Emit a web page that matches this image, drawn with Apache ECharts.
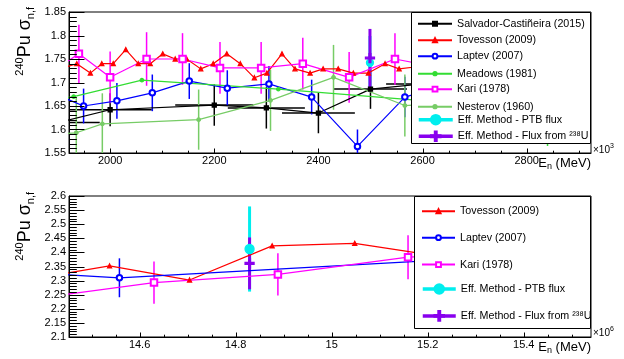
<!DOCTYPE html>
<html><head><meta charset="utf-8">
<script src="https://cdn.jsdelivr.net/npm/echarts@6/dist/echarts.min.js"></script>
<style>html,body{margin:0;padding:0;background:#fff}#c{width:624px;height:359px}</style>
</head><body><div id="c"></div>
<script>
// ================= TOP PANEL DATA =================
const salvX    = [1900, 2000, 2200, 2300, 2400, 2500, 2600];
const salvY    = [1.615, 1.642, 1.652, 1.646, 1.635, 1.686, 1.697];
const salvYErr = [0.035, 0.035, 0.044, 0.044, 0.043, 0.042, 0.040];
const salvXErr = [80, 80, 75, 74, 70, 70, 70];

const tovTopX = [1910, 1936, 1962, 1984, 2006, 2030, 2054, 2077, 2101, 2125, 2147, 2174, 2198, 2224, 2250, 2277, 2301, 2330, 2355, 2384, 2409, 2438, 2467, 2496, 2528, 2555, 2585, 2615];
const tovTopY = [1.731, 1.740, 1.720, 1.740, 1.740, 1.770, 1.740, 1.740, 1.761, 1.750, 1.750, 1.729, 1.740, 1.761, 1.740, 1.710, 1.720, 1.761, 1.729, 1.720, 1.729, 1.729, 1.720, 1.720, 1.740, 1.729, 1.733, 1.730];

const lapTopX   = [1880, 1949, 2013, 2081, 2152, 2225, 2305, 2387, 2475, 2566, 2660];
const lapTopY   = [1.682, 1.650, 1.661, 1.678, 1.703, 1.688, 1.697, 1.669, 1.564, 1.669, 1.700];
const lapTopErr = [0.037, 0.037, 0.038, 0.039, 0.038, 0.038, 0.038, 0.037, 0.036, 0.043, 0.040];

const meaX   = [1880, 1930, 2061, 2323, 2840];
const meaY   = [1.660, 1.670, 1.705, 1.686, 1.640];
const meaErr = [0, 0, 0, 0, 0.075];

const kariTopX   = [1880, 1940, 2000, 2070, 2139, 2211, 2290, 2370, 2459, 2547, 2640];
const kariTopY   = [1.717, 1.761, 1.711, 1.750, 1.750, 1.731, 1.731, 1.740, 1.711, 1.750, 1.730];
const kariTopErr = [0.060, 0.062, 0.055, 0.057, 0.055, 0.055, 0.055, 0.055, 0.054, 0.055, 0.055];

const nesX   = [1900, 1935, 1985, 2170, 2308, 2429, 2566, 2700];
const nesY   = [1.590, 1.593, 1.612, 1.621, 1.662, 1.711, 1.651, 1.660];
const nesErr = [0.070, 0.075, 0.065, 0.064, 0.065, 0.069, 0.066, 0.070];

const ptbTopX = [2499], ptbTopY = [1.742], ptbTopErr = [0.057];
const fluxTopX = [2499], fluxTopY = [1.752], fluxTopErr = [0.062];

const topXRange = [1921, 2923.5];
const topYRange = [1.55, 1.85];
const topXTicks = [2000, 2200, 2400, 2600, 2800];
const topYTicks = [1.55, 1.6, 1.65, 1.7, 1.75, 1.8, 1.85];

// ================= BOTTOM PANEL DATA =================
const tovBotX = [14.37, 14.5375, 14.704, 14.876, 15.048, 15.25];
const tovBotY = [2.305, 2.352, 2.302, 2.423, 2.432, 2.380];

const lapBotX   = [14.35, 14.558, 15.30];
const lapBotY   = [2.330, 2.310, 2.380];
const lapBotErr = [0.070, 0.069, 0.070];

const kariBotX   = [14.40, 14.630, 14.888, 15.159, 15.40];
const kariBotY   = [2.240, 2.293, 2.322, 2.383, 2.400];
const kariBotErr = [0.075, 0.075, 0.075, 0.078, 0.075];

const ptbBotX = [14.829], ptbBotY = [2.412], ptbBotErr = [0.151];
const fluxBotX = [14.829], fluxBotY = [2.361], fluxBotErr = [0.092];

const botXRange = [14.453, 15.54];
const botYRange = [2.1, 2.6];
const botXTicks = [14.6, 14.8, 15, 15.2, 15.4];
const botYTicks = [2.1, 2.15, 2.2, 2.25, 2.3, 2.35, 2.4, 2.45, 2.5, 2.55, 2.6];

// ================= helpers =================
function steps(a, b, s) { const out = []; const n = Math.round((b - a) / s); for (let i = 0; i <= n; i++) out.push(+(a + i * s).toFixed(4)); return out; }
const topXMinor = steps(1950, 2900, 50);
const topYMinor = steps(1.55, 1.85, 0.01);
const botXMinor = steps(14.45, 15.5, 0.05);
const botYMinor = steps(2.1, 2.6, 0.01);

const FONT = "'Liberation Sans', Arial, Helvetica, sans-serif";
const plus = 'path://M-1,-5H1V-1H5V1H1V5H-1V1H-5V-1H-1Z';

function pts(xs, ys) { return xs.map((x, i) => [x, ys[i]]); }
function errPts(xs, ys, ye, xe) { return xs.map((x, i) => [x, ys[i], ys[i] - ye[i], ys[i] + ye[i], xe ? x - xe[i] : x, xe ? x + xe[i] : x]); }

function lineSeries(name, xs, ys, color, symbol, size, g, extra) {
  return Object.assign({
    name, type: 'line', data: pts(xs, ys), xAxisIndex: g, yAxisIndex: g,
    symbol, symbolSize: size, showSymbol: true, clip: true,
    lineStyle: { color, width: 1.2 }, itemStyle: { color, borderColor: color, borderWidth: 1.3 },
    emphasis: { disabled: true }, z: 3
  }, extra || {});
}
function errSeries(name, xs, ys, ye, xe, color, width, g) {
  return {
    name: name + ' err', type: 'custom', xAxisIndex: g, yAxisIndex: g, clip: true, z: 2,
    data: errPts(xs, ys, ye, xe), encode: { x: 0, y: 1 },
    renderItem: (params, api) => {
      const x = api.value(0), y = api.value(1);
      const a = api.coord([x, api.value(2)]), b = api.coord([x, api.value(3)]);
      const ch = [{ type: 'line', shape: { x1: a[0], y1: a[1], x2: b[0], y2: b[1] }, style: { stroke: color, lineWidth: width } }];
      if (api.value(4) !== api.value(5)) {
        const c = api.coord([api.value(4), y]), d = api.coord([api.value(5), y]);
        ch.push({ type: 'line', shape: { x1: c[0], y1: c[1], x2: d[0], y2: d[1] }, style: { stroke: color, lineWidth: width } });
      }
      return { type: 'group', children: ch };
    }
  };
}

const C = { black: '#000000', red: '#ff0000', blue: '#0000ff', mea: '#33dd33', kari: '#ff00ff', nes: '#77cc66', ptb: '#00eeee', flux: '#8800ee' };

const labelStyle = { show: true, color: '#000', fontFamily: FONT, fontSize: 11, formatter: v => String(+v.toFixed(3)) };

function axis(dim, g, range, ticks, margin) {
  return {
    type: 'value', gridIndex: g, min: range[0], max: range[1], position: dim === 'x' ? 'bottom' : 'left',
    splitLine: { show: false },
    axisLine: { show: true, onZero: false, lineStyle: { color: '#000', width: 1 } },
    axisTick: { show: false },
    axisLabel: Object.assign({ customValues: ticks, margin }, labelStyle)
  };
}

function mkLegend(name, left, cy, h, lw, iw) {
  return {
    orient: 'vertical', left, top: cy - h / 2, padding: 0, itemWidth: iw, itemHeight: h, itemGap: 0, z: 10,
    data: [name], lineStyle: { width: lw },
    textStyle: { fontFamily: FONT, fontSize: 10.7, color: '#000', lineHeight: h }
  };
}

const topNames = ['Salvador-Castiñeira (2015)', 'Tovesson (2009)', 'Laptev (2007)', 'Meadows (1981)', 'Kari (1978)', 'Nesterov (1960)', 'Eff. Method - PTB flux', 'Eff. Method - Flux from ²³⁸U'];
const botNames = ['Tovesson (2009) ', 'Laptev (2007) ', 'Kari (1978) ', 'Eff. Method - PTB flux ', 'Eff. Method - Flux from ²³⁸U '];

const series = [
  errSeries('salv', salvX, salvY, salvYErr, salvXErr, C.black, 1.5, 0),
  lineSeries(topNames[0], salvX, salvY, C.black, 'rect', 4, 0),
  lineSeries(topNames[1], tovTopX, tovTopY, C.red, 'triangle', 4, 0),
  errSeries('lap', lapTopX, lapTopY, lapTopErr, null, C.blue, 1.5, 0),
  lineSeries(topNames[2], lapTopX, lapTopY, C.blue, 'emptyCircle', 5.5, 0),
  errSeries('mea', meaX, meaY, meaErr, null, C.mea, 1.5, 0),
  lineSeries(topNames[3], meaX, meaY, C.mea, 'circle', 3.5, 0),
  errSeries('kari', kariTopX, kariTopY, kariTopErr, null, C.kari, 1.5, 0),
  lineSeries(topNames[4], kariTopX, kariTopY, C.kari, 'emptyRect', 6.5, 0),
  errSeries('nes', nesX, nesY, nesErr, null, C.nes, 1.5, 0),
  lineSeries(topNames[5], nesX, nesY, C.nes, 'circle', 3.5, 0),
  errSeries('ptb', ptbTopX, ptbTopY, ptbTopErr, null, C.ptb, 3, 0),
  lineSeries(topNames[6], ptbTopX, ptbTopY, C.ptb, 'circle', 7, 0, { z: 4 }),
  errSeries('flux', fluxTopX, fluxTopY, fluxTopErr, null, C.flux, 3, 0),
  lineSeries(topNames[7], fluxTopX, fluxTopY, C.flux, plus, 9, 0, { z: 5 }),

  lineSeries(botNames[0], tovBotX, tovBotY, C.red, 'triangle', 4, 1),
  errSeries('lapb', lapBotX, lapBotY, lapBotErr, null, C.blue, 1.5, 1),
  lineSeries(botNames[1], lapBotX, lapBotY, C.blue, 'emptyCircle', 5.5, 1),
  errSeries('karib', kariBotX, kariBotY, kariBotErr, null, C.kari, 1.5, 1),
  lineSeries(botNames[2], kariBotX, kariBotY, C.kari, 'emptyRect', 6.5, 1),
  errSeries('ptbb', ptbBotX, ptbBotY, ptbBotErr, null, C.ptb, 3, 1),
  lineSeries(botNames[3], ptbBotX, ptbBotY, C.ptb, 'circle', 9, 1, { z: 4 }),
  errSeries('fluxb', fluxBotX, fluxBotY, fluxBotErr, null, C.flux, 3, 1),
  lineSeries(botNames[4], fluxBotX, fluxBotY, C.flux, plus, 9, 1, { z: 5 })
];

const topRows = [20.7, 37.2, 53.7, 70.2, 86.7, 103.2, 119.7, 136.2];
const topH = [5, 5, 6, 4, 6, 4, 12, 12];
const topLW = [2, 2, 2, 2, 2, 2, 3.5, 3.5];
const botRows = [208.3, 235.2, 262.1, 289.0, 315.9];
const botH = [5, 6, 6, 12, 12];
const botLW = [2, 2, 2, 3.5, 3.5];

const legends = [];
topNames.forEach((n, i) => legends.push(mkLegend(n, 417, topRows[i], topH[i], topLW[i], 34)));
botNames.forEach((n, i) => legends.push(mkLegend(n, 421, botRows[i], botH[i], botLW[i], 33)));

const richY = {
  sup: { fontFamily: FONT, fontSize: 11, lineHeight: 11, verticalAlign: 'top' },
  main: { fontFamily: FONT, fontSize: 18, lineHeight: 22, verticalAlign: 'middle' },
  sub: { fontFamily: FONT, fontSize: 11, lineHeight: 11, verticalAlign: 'bottom' }
};
const richX = {
  main: { fontFamily: FONT, fontSize: 13, lineHeight: 17, verticalAlign: 'middle' },
  sub: { fontFamily: FONT, fontSize: 9, lineHeight: 9, verticalAlign: 'bottom' }
};
const richE = {
  main: { fontFamily: FONT, fontSize: 10, lineHeight: 14, verticalAlign: 'middle' },
  sup: { fontFamily: FONT, fontSize: 7, lineHeight: 7, verticalAlign: 'top' }
};
function yTitle(y) {
  return { type: 'text', x: 25, y, rotation: Math.PI / 2, z: 20,
    style: { text: '{sup|240}{main|Pu σ}{sub|n,f}', rich: richY, align: 'right', verticalAlign: 'middle', fill: '#000' } };
}
function xTitle(y) {
  return { type: 'text', x: 591, y, z: 20,
    style: { text: '{main|E}{sub|n}{main| (MeV)}', rich: richX, align: 'right', verticalAlign: 'middle', fill: '#000' } };
}
function expo(y, p) {
  return { type: 'text', x: 593, y, z: 20,
    style: { text: '{main|×10}{sup|' + p + '}', rich: richE, align: 'left', verticalAlign: 'middle', fill: '#000' } };
}

const baseGraphic = [
  { type: 'rect', z: 6, shape: { x: 411.5, y: 12.5, width: 179, height: 131 }, style: { fill: '#fff', stroke: '#000', lineWidth: 1 } },
  { type: 'rect', z: 6, shape: { x: 414.5, y: 196.5, width: 176, height: 132 }, style: { fill: '#fff', stroke: '#000', lineWidth: 1 } },
  yTitle(7), yTitle(192), xTitle(163), xTitle(347), expo(150, '3'), expo(333, '6')
];

const option = {
  animation: false,
  grid: [
    { left: 69, top: 12, width: 522, height: 141, show: true, borderColor: '#000', borderWidth: 1, backgroundColor: 'transparent' },
    { left: 69, top: 196, width: 522, height: 141, show: true, borderColor: '#000', borderWidth: 1, backgroundColor: 'transparent' }
  ],
  xAxis: [axis('x', 0, topXRange, topXTicks, 2), axis('x', 1, botXRange, botXTicks, 2)],
  yAxis: [axis('y', 0, topYRange, topYTicks, 3), axis('y', 1, botYRange, botYTicks, 3)],
  legend: legends,
  graphic: baseGraphic,
  series
};
const chart = echarts.init(document.getElementById('c'), null, { renderer: 'canvas' });
chart.setOption(option);

// ---- inward ROOT-style ticks, positioned through the axes' own scales ----
function tickEls(g, xr, yr, xMaj, xMin, yMaj, yMin) {
  const els = [];
  const toPx = v => chart.convertToPixel({ xAxisIndex: g, yAxisIndex: g }, v);
  const isMaj = (arr, v) => arr.some(m => Math.abs(m - v) < 1e-6);
  const add = (x1, y1, x2, y2) => els.push({ type: 'line', z: 15, silent: true, shape: { x1, y1, x2, y2 }, style: { stroke: '#000', lineWidth: 1 } });
  xMaj.concat(xMin.filter(v => !isMaj(xMaj, v))).forEach(v => {
    if (v < xr[0] || v > xr[1]) return;
    const p = toPx([v, yr[0]]); const x = Math.round(p[0]) + 0.5;
    add(x, p[1], x, p[1] - (isMaj(xMaj, v) ? 4.5 : 2.3));
  });
  yMaj.concat(yMin.filter(v => !isMaj(yMaj, v))).forEach(v => {
    if (v < yr[0] - 1e-9 || v > yr[1] + 1e-9) return;
    const p = toPx([xr[0], v]); const y = Math.round(p[1]) + 0.5;
    add(p[0], y, p[0] + (isMaj(yMaj, v) ? 15.5 : 7.8), y);
  });
  return els;
}
const ticks = tickEls(0, topXRange, topYRange, topXTicks, topXMinor, topYTicks, topYMinor)
  .concat(tickEls(1, botXRange, botYRange, botXTicks, botXMinor, botYTicks, botYMinor));
chart.setOption({ graphic: baseGraphic.concat(ticks) });
</script></body></html>
